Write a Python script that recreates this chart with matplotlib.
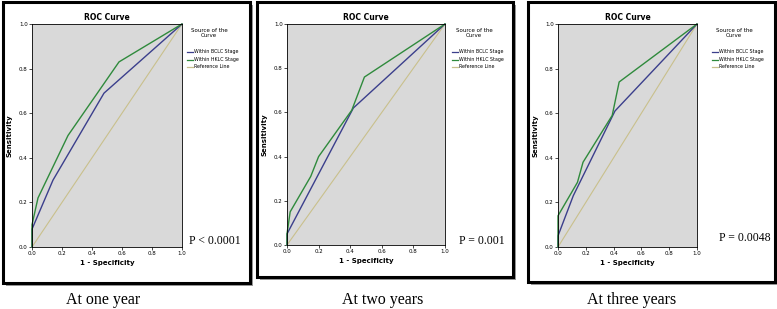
import numpy as np
import matplotlib.pyplot as plt
from matplotlib.patches import Rectangle
from matplotlib.lines import Line2D

W, H = 777, 309

# ROC points (1 - specificity, sensitivity)
bclc_x = [[0.0, 0.0, 0.14, 0.48, 1.0],
          [0.0, 0.0, 0.42, 1.0],
          [0.0, 0.0, 0.11, 0.41, 1.0]]
bclc_y = [[0.0, 0.08, 0.30, 0.69, 1.0],
          [0.0, 0.05, 0.62, 1.0],
          [0.0, 0.05, 0.23, 0.61, 1.0]]
hklc_x = [[0.0, 0.0, 0.04, 0.24, 0.58, 1.0],
          [0.0, 0.0, 0.02, 0.15, 0.20, 0.41, 0.49, 1.0],
          [0.0, 0.0, 0.14, 0.18, 0.39, 0.44, 1.0]]
hklc_y = [[0.0, 0.10, 0.22, 0.50, 0.83, 1.0],
          [0.0, 0.05, 0.15, 0.31, 0.40, 0.61, 0.76, 1.0],
          [0.0, 0.14, 0.29, 0.38, 0.59, 0.74, 1.0]]
pvals = ['P < 0.0001', 'P = 0.001', 'P = 0.0048']
captions = ['At one year', 'At two years', 'At three years']

# layout in pixels (left, right, top, bottom)
frames = [(3, 250, 2, 283), (257, 513, 2, 277), (528, 775, 2, 282)]
axboxes = [(32, 182, 24, 247), (287, 445, 24, 245), (558, 697, 24, 247)]
legx = [187, 452, 712]
ptxt = [(215, 241), (482, 241), (745, 238)]
capx = [103, 383, 632]

c_blue = '#3b3f8c'
c_green = '#2f8a3c'
c_ref = '#c9c08c'

def fx(x): return x / W
def fy(y): return 1 - y / H

fig = plt.figure(figsize=(W / 100, H / 100), dpi=100)

for i in range(3):
    l, r, t, b = frames[i]
    # shadow then frame
    fig.patches.append(Rectangle((fx(l + 3), fy(b + 3)), fx(r - l), (b - t) / H,
                                 transform=fig.transFigure, facecolor='#9a9a9a',
                                 edgecolor='none', zorder=0))
    fig.patches.append(Rectangle((fx(l), fy(b)), fx(r - l), (b - t) / H,
                                 transform=fig.transFigure, facecolor='white',
                                 edgecolor='black', linewidth=2.2, zorder=1))

    l, r, t, b = axboxes[i]
    ax = fig.add_axes([fx(l), fy(b), fx(r - l), (b - t) / H])
    ax.set_zorder(3)
    ax.set_facecolor('#d9d9d9')
    ax.plot([0, 1], [0, 1], color=c_ref, lw=0.8, clip_on=False)
    ax.plot(bclc_x[i], bclc_y[i], color=c_blue, lw=1.0, clip_on=False)
    ax.plot(hklc_x[i], hklc_y[i], color=c_green, lw=1.0, clip_on=False)
    ax.set_xlim(0, 1)
    ax.set_ylim(0, 1)
    ticks = np.arange(0, 1.01, 0.2)
    ax.set_xticks(ticks)
    ax.set_yticks(ticks)
    ax.set_xticklabels(['%.1f' % v for v in ticks])
    ax.set_yticklabels(['%.1f' % v for v in ticks])
    ax.tick_params(labelsize=4, length=2, width=0.5, pad=1)
    for s in ax.spines.values():
        s.set_linewidth(0.6)
    ax.set_title('ROC Curve', fontsize=5.5, fontweight='bold', pad=3)
    ax.set_xlabel('1 - Specificity', fontsize=5, fontweight='bold', labelpad=3)
    ax.set_ylabel('Sensitivity', fontsize=5, fontweight='bold', labelpad=5)

    # legend
    lx = legx[i]
    fig.text(fx(lx + 22), fy(33), 'Source of the\nCurve', fontsize=4, ha='center',
             va='center', linespacing=1.0, zorder=4)
    for k, (lab, c) in enumerate([('Within BCLC Stage', c_blue),
                                  ('Within HKLC Stage', c_green),
                                  ('Reference Line', c_ref)]):
        yy = fy(52 + k * 7.5)
        fig.lines.append(Line2D([fx(lx), fx(lx + 6)], [yy, yy], color=c, lw=0.9,
                                transform=fig.transFigure, zorder=4))
        fig.text(fx(lx + 7), yy, lab, fontsize=3.4, va='center', ha='left', zorder=4)

    px, py = ptxt[i]
    fig.text(fx(px), fy(py), pvals[i], fontsize=8.5, family='Liberation Serif',
             ha='center', va='center', zorder=4)
    fig.text(fx(capx[i]), fy(300), captions[i], fontsize=11.5,
             family='Liberation Serif', ha='center', va='center', zorder=4)

fig.savefig('out.png', dpi=100)
